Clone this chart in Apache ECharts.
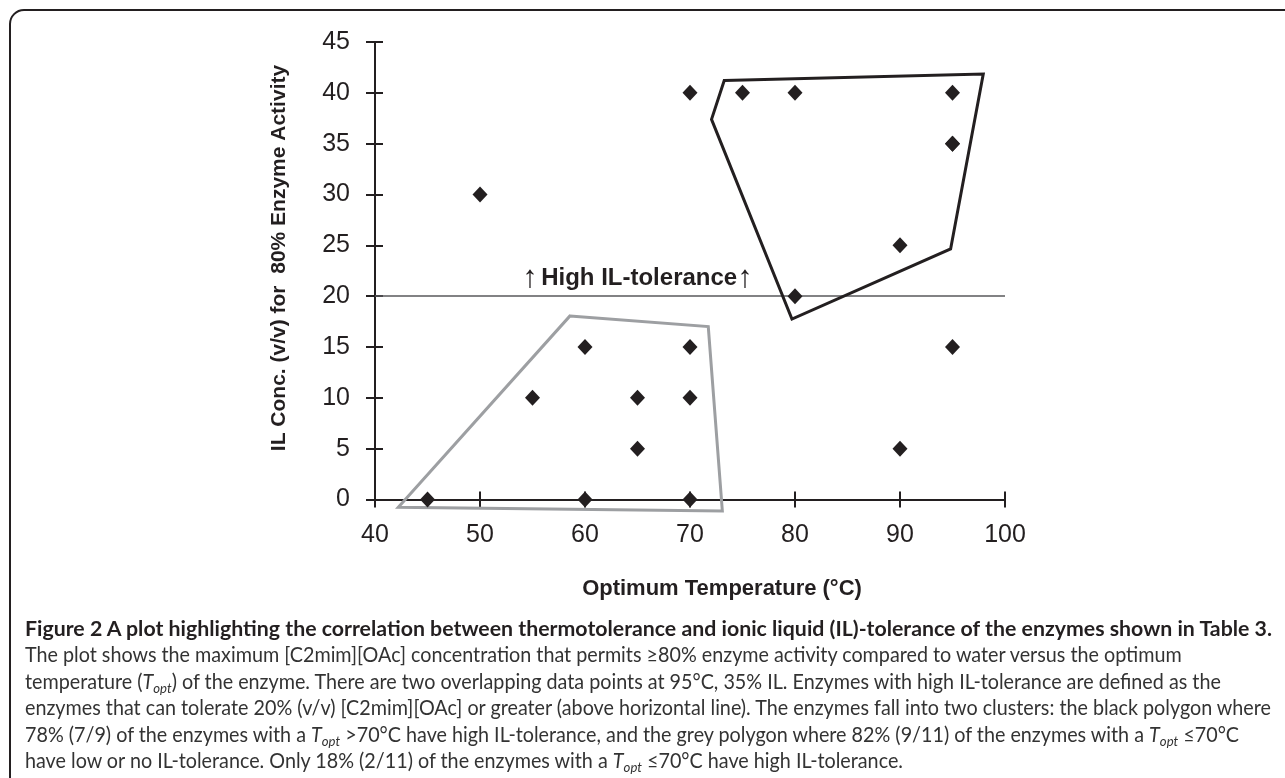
<!DOCTYPE html>
<html>
<head>
<meta charset="utf-8">
<script src="https://cdn.jsdelivr.net/npm/echarts@6/dist/echarts.min.js"></script>
<style>
  html, body { margin:0; padding:0; background:#fff; }
  #chart { position:absolute; left:0; top:0; width:1285px; height:778px; }
  .cap { position:absolute; left:25px; white-space:nowrap; font-family: Lato, "Open Sans", "Noto Sans", sans-serif;
         font-size:21px; line-height:26.5px; color:#333; transform-origin:0 50%; }
  .cap.b { font-weight:700; color:#231f20; }
  .cap sub { font-size:14px; font-style:italic; vertical-align:-4px; line-height:0; }
</style>
</head>
<body>
<div id="chart"></div>
<div class="cap b" id="c1" style="top:614.6px">Figure 2 A plot highlighting the correlation between thermotolerance and ionic liquid (IL)-tolerance of the enzymes shown in Table 3.</div>
<div class="cap r" id="c2" style="top:641.1px">The plot shows the maximum [C2mim][OAc] concentration that permits ≥80% enzyme activity compared to water versus the optimum</div>
<div class="cap r" id="c3" style="top:667.6px">temperature (<i>T</i><sub>opt</sub>) of the enzyme. There are two overlapping data points at 95°C, 35% IL. Enzymes with high IL-tolerance are defined as the</div>
<div class="cap r" id="c4" style="top:694.1px">enzymes that can tolerate 20% (v/v) [C2mim][OAc] or greater (above horizontal line). The enzymes fall into two clusters: the black polygon where</div>
<div class="cap r" id="c5" style="top:720.6px">78% (7/9) of the enzymes with a <i>T</i><sub>opt</sub> &gt;70°C have high IL-tolerance, and the grey polygon where 82% (9/11) of the enzymes with a <i>T</i><sub>opt</sub> ≤70°C</div>
<div class="cap r" id="c6" style="top:747.1px">have low or no IL-tolerance. Only 18% (2/11) of the enzymes with a <i>T</i><sub>opt</sub> ≤70°C have high IL-tolerance.</div>
<script>
// ---- data ----
const optTemp = [50, 70, 75, 80, 95, 95, 95, 90, 80, 60, 70, 95, 55, 65, 70, 65, 90, 45, 60, 70];
const ilConc  = [30, 40, 40, 40, 40, 35, 35, 25, 20, 15, 15, 15, 10, 10, 10, 5, 5, 0, 0, 0];
const blackPolyTemp = [73.26, 97.93, 94.82, 79.71, 72.05];
const blackPolyIL   = [41.21, 41.85, 24.64, 17.75, 37.39];
const greyPolyTemp  = [58.57, 71.74, 73.08, 42.22];
const greyPolyIL    = [18.06, 17.01, -1.13, -0.77];
const thresholdIL = 20;
const xMin = 40, xMax = 100, xStep = 10;
const yMin = 0, yMax = 45, yStep = 5;
const xTitle = 'Optimum Temperature (°C)';
const yTitle = 'IL Conc. (v/v) for  80% Enzyme Activity';

const INK = '#231f20';
const FONT = '"Liberation Sans", Arial, Helvetica, sans-serif';

function polygonSeries(xs, ys, color) {
  return {
    type: 'custom', xAxisIndex: 0, yAxisIndex: 0, clip: false, z: 3,
    data: [[xs[0], ys[0]]],
    renderItem: function (params, api) {
      const pts = xs.map((x, i) => api.coord([x, ys[i]]));
      return { type: 'polygon', shape: { points: pts },
               style: { fill: 'none', stroke: color, lineWidth: 3, lineJoin: 'miter' } };
    }
  };
}

const gridRect = { left: 375, top: 42, width: 630, height: 457.5 };
const tickStyle = { color: INK, width: 2 };

const chart = echarts.init(document.getElementById('chart'), null, { renderer: 'canvas' });
chart.setOption({
  animation: false,
  backgroundColor: '#fff',
  grid: [Object.assign({}, gridRect), Object.assign({}, gridRect)],
  xAxis: [
    { gridIndex: 0, type: 'value', min: xMin, max: xMax, interval: xStep,
      axisLine: { show: true, onZero: false, lineStyle: { color: INK, width: 2 } },
      axisTick: { show: true, length: 8, lineStyle: tickStyle },
      axisLabel: { margin: 23, fontSize: 25, color: INK, fontFamily: FONT },
      splitLine: { show: false } },
    { gridIndex: 1, type: 'value', min: xMin, max: xMax, interval: xStep,
      axisLine: { show: false }, axisTick: { show: true, inside: true, length: 8, lineStyle: tickStyle },
      axisLabel: { show: false }, splitLine: { show: false } }
  ],
  yAxis: [
    { gridIndex: 0, type: 'value', min: yMin, max: yMax, interval: yStep,
      axisLine: { show: true, onZero: false, lineStyle: { color: INK, width: 2 } },
      axisTick: { show: true, length: 9, lineStyle: tickStyle },
      axisLabel: { margin: 25, fontSize: 25, color: INK, fontFamily: FONT },
      splitLine: { show: false } },
    { gridIndex: 1, type: 'value', min: yMin, max: yMax, interval: yStep,
      axisLine: { show: false }, axisTick: { show: true, inside: true, length: 8, lineStyle: tickStyle },
      axisLabel: { show: false }, splitLine: { show: false } }
  ],
  series: [
    polygonSeries(greyPolyTemp, greyPolyIL, '#9d9fa2'),
    polygonSeries(blackPolyTemp, blackPolyIL, INK),
    {
      type: 'scatter', xAxisIndex: 0, yAxisIndex: 0, z: 5,
      symbol: 'diamond', symbolSize: [15, 16],
      itemStyle: { color: INK, opacity: 1 },
      data: optTemp.map((t, i) => [t, ilConc[i]]),
      markLine: {
        silent: true, symbol: ['none', 'none'], label: { show: false }, z: 2,
        lineStyle: { color: '#58595b', width: 1.5, type: 'solid', opacity: 1 },
        data: [{ yAxis: thresholdIL }]
      }
    }
  ],
  graphic: [
    { type: 'rect', z: 0, shape: { x: 10, y: 10, width: 1400, height: 900, r: 14 },
      style: { fill: 'none', stroke: INK, lineWidth: 2 } },
    { type: 'text', x: 279, y: 258, rotation: Math.PI / 2,
      style: { text: yTitle, fill: INK, font: 'bold 21px ' + FONT, align: 'center', verticalAlign: 'middle' } },
    { type: 'text', x: 722, y: 589,
      style: { text: xTitle, fill: INK, font: 'bold 22px ' + FONT, align: 'center', verticalAlign: 'middle' } },
    { type: 'text', x: 637.5, y: 278,
      style: { text: '{a|↑} {b|High IL-tolerance}{a|↑}', align: 'center', verticalAlign: 'middle',
        rich: { a: { font: '31px ' + FONT, fill: INK }, b: { font: 'bold 24px ' + FONT, fill: INK } } } }
  ]
});

function fitCaption() {
  const c1 = document.getElementById('c1');
  const c4 = document.getElementById('c4');
  c1.style.transform = 'none';
  document.querySelectorAll('.cap.r').forEach(el => el.style.transform = 'none');
  const sb = 1247 / c1.getBoundingClientRect().width;
  const sr = 1246 / c4.getBoundingClientRect().width;
  c1.style.transform = 'scaleX(' + sb + ')';
  document.querySelectorAll('.cap.r').forEach(el => el.style.transform = 'scaleX(' + sr + ')');
}
fitCaption();
if (document.fonts && document.fonts.ready) document.fonts.ready.then(fitCaption);
</script>
</body>
</html>
